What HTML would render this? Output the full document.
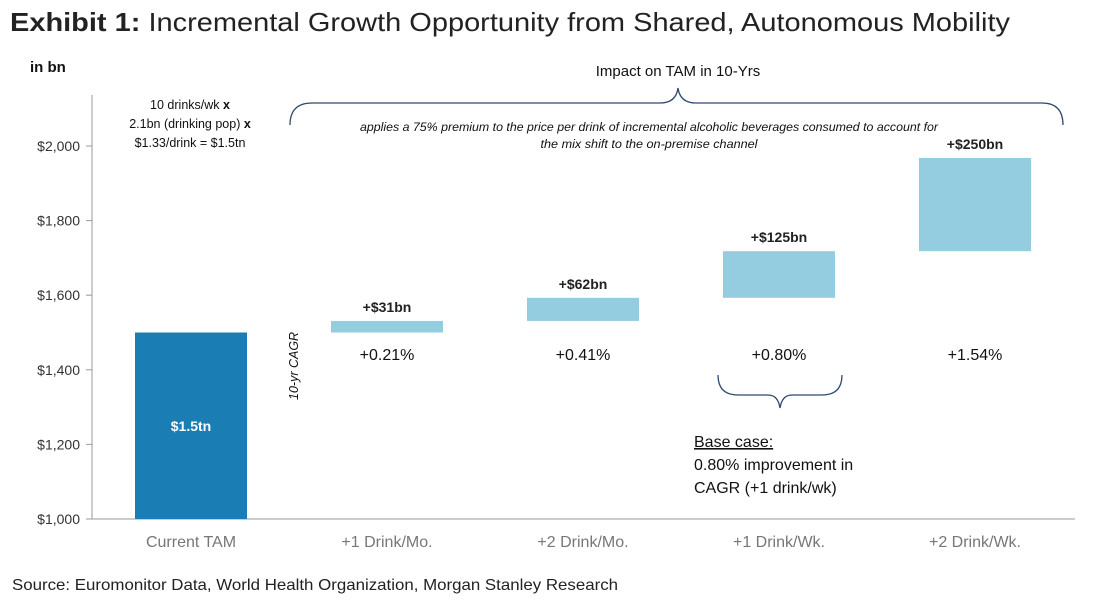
<!DOCTYPE html>
<html><head><meta charset="utf-8"><style>
body{margin:0;background:#fff;}
svg text{font-family:"Liberation Sans",sans-serif;}
</style></head><body>
<svg width="1095" height="608" viewBox="0 0 1095 608" xmlns="http://www.w3.org/2000/svg">
<text x="10" y="31" font-size="26" fill="#222" textLength="1000" lengthAdjust="spacingAndGlyphs"><tspan font-weight="bold">Exhibit 1:</tspan>  Incremental Growth Opportunity from Shared, Autonomous Mobility</text>
<text x="30" y="72" font-size="15" font-weight="bold" fill="#111">in  bn</text>
<g id="axes"></g>
<g id="bars"></g>
<g font-size="12.5" fill="#111" text-anchor="middle">
<text x="190" y="109">10 drinks/wk <tspan font-weight="bold">x</tspan></text>
<text x="190" y="128">2.1bn (drinking pop) <tspan font-weight="bold">x</tspan></text>
<text x="190" y="147">$1.33/drink = $1.5tn</text>
</g>
<text x="678" y="76" font-size="15" text-anchor="middle" fill="#111">Impact on TAM in 10-Yrs</text>
<path d="M290,125 Q290,103 312,103 L660,103 Q676,103 678,88 Q680,103 696,103 L1042,103 Q1063,103 1063,125" fill="none" stroke="#2f4a70" stroke-width="1.3"/>
<g font-size="11.5" font-style="italic" fill="#111" text-anchor="middle">
<text x="649" y="131" textLength="578" lengthAdjust="spacingAndGlyphs">applies a 75% premium to the price per drink of incremental alcoholic beverages consumed to account for</text>
<text x="649" y="148" textLength="217" lengthAdjust="spacingAndGlyphs">the mix shift to the on-premise channel</text>
</g>
<text transform="translate(298,400) rotate(-90)" font-size="12.5" font-style="italic" fill="#111">10-yr CAGR</text>
<path d="M718,375 Q718,395 738,395 L768,395 Q778,395 780,408 Q782,395 792,395 L822,395 Q842,395 842,375" fill="none" stroke="#2f4a70" stroke-width="1.3"/>
<g font-size="16" fill="#111">
<text x="694" y="447" text-decoration="underline">Base case:</text>
<text x="694" y="470">0.80% improvement in</text>
<text x="694" y="493">CAGR (+1 drink/wk)</text>
</g>
<text x="12" y="590" font-size="16" fill="#222" textLength="606" lengthAdjust="spacingAndGlyphs">Source: Euromonitor Data, World Health Organization, Morgan Stanley Research</text>
</svg>
<script>
const categories=["Current TAM","+1 Drink/Mo.","+2 Drink/Mo.","+1 Drink/Wk.","+2 Drink/Wk."];
const increments=[1500,31,62,125,250];
const valueLabels=["$1.5tn","+$31bn","+$62bn","+$125bn","+$250bn"];
const cagrLabels=["","+0.21%","+0.41%","+0.80%","+1.54%"];
const yTicks=[1000,1200,1400,1600,1800,2000];
const yTickLabels=["$1,000","$1,200","$1,400","$1,600","$1,800","$2,000"];
const NS="http://www.w3.org/2000/svg";
const y=v=>519-(v-1000)*0.373;
const xc=i=>191+i*196;
function mk(t,a,p,txt){const e=document.createElementNS(NS,t);for(const k in a)e.setAttribute(k,a[k]);if(txt!=null)e.textContent=txt;p.appendChild(e);return e;}
const ax=document.getElementById('axes'),bars=document.getElementById('bars');
let l=mk('line',{x1:92,y1:95,x2:92,y2:519,stroke:'#999'},ax);


l=mk('line',{x1:92,y1:519,x2:1075,y2:519,stroke:'#999'},ax);


yTicks.forEach((v,i)=>{
 mk('line',{x1:86,x2:92,y1:y(v),y2:y(v),stroke:'#999'},ax);
 const t=mk('text',{x:80,y:y(v)+5,'text-anchor':'end','font-size':14,fill:'#333'},ax,yTickLabels[i]);
 
 
});
let base=1000;
categories.forEach((c,i)=>{
 const lo=i===0?1000:base, hi=i===0?increments[0]:base+increments[i];
 base=i===0?increments[0]:hi;
 const r=mk('rect',{x:xc(i)-56,y:y(hi),width:112,height:y(lo)-y(hi),fill:i===0?'#1a7db4':'#93cddf'},bars);
 
 
 const t=mk('text',{x:xc(i),'text-anchor':'middle','font-size':14,'font-weight':'bold',fill:i===0?'#fff':'#222',y:i===0?y((lo+hi)/2)+5:y(hi)-9},bars,valueLabels[i]);
 
 
 if(cagrLabels[i]){
  const g=mk('text',{x:xc(i),y:360,'text-anchor':'middle','font-size':16,fill:'#111'},bars,cagrLabels[i]);
  
  
 }
 const x=mk('text',{x:xc(i),y:547,'text-anchor':'middle','font-size':16,fill:'#777'},bars,c);
 
 
});
</script>
</body></html>
